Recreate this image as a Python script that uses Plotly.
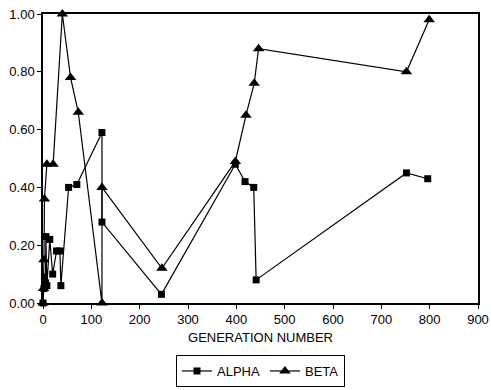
import plotly.graph_objects as go

alpha_x = [0, 2, 3, 5, 6, 8, 14, 20, 28, 35, 37, 53, 70, 122, 122, 245, 398, 418, 436, 441, 752, 796]
alpha_y = [0.00, 0.05, 0.09, 0.07, 0.23, 0.06, 0.22, 0.10, 0.18, 0.18, 0.06, 0.40, 0.41, 0.59, 0.28, 0.03, 0.48, 0.42, 0.40, 0.08, 0.45, 0.43]

beta_x = [0, 1, 2, 3, 8, 21, 40, 57, 73, 122, 122, 246, 398, 420, 437, 446, 752, 799]
beta_y = [0.00, 0.05, 0.15, 0.36, 0.48, 0.48, 1.00, 0.78, 0.66, 0.00, 0.40, 0.12, 0.49, 0.65, 0.76, 0.88, 0.80, 0.98]

x_ticks = [0, 100, 200, 300, 400, 500, 600, 700, 800, 900]
y_ticks = [0.0, 0.2, 0.4, 0.6, 0.8, 1.0]

fig = go.Figure()
fig.add_trace(go.Scatter(x=alpha_x, y=alpha_y, mode="lines+markers", name="ALPHA",
                         line=dict(color="black", width=1.2),
                         marker=dict(symbol="square", size=7, color="black"),
                         cliponaxis=False))
fig.add_trace(go.Scatter(x=beta_x, y=beta_y, mode="lines+markers", name="BETA",
                         line=dict(color="black", width=1.2),
                         marker=dict(symbol="triangle-up", size=10, color="black"),
                         cliponaxis=False))

font = dict(family="Liberation Sans, Arial, sans-serif", size=13, color="black")
fig.update_layout(
    width=491, height=390,
    margin=dict(l=43, r=13, t=14, b=87, autoexpand=False),
    paper_bgcolor="white", plot_bgcolor="white",
    font=font,
    showlegend=True,
    legend=dict(orientation="h", x=0.5, xanchor="center", y=-0.18, yanchor="top",
                bordercolor="black", borderwidth=1, font=font,
                itemwidth=30, tracegroupgap=0),
    xaxis=dict(range=[0, 900], tickvals=x_ticks, ticks="outside", ticklen=4,
               tickcolor="black", showline=True, linecolor="black", linewidth=1.5,
               mirror=True, showgrid=False, zeroline=False, automargin=False,
               ticklabeloverflow="allow", tickfont=font,
               title=dict(text="GENERATION NUMBER", standoff=7, font=font)),
    yaxis=dict(range=[0, 1.0], tickvals=y_ticks, tickformat=".2f", ticks="outside",
               ticklen=4, tickcolor="black", showline=True, linecolor="black",
               linewidth=1.5, mirror=True, showgrid=False, zeroline=False,
               automargin=False, tickfont=font),
)

fig.write_html("out.html",
               config={"displayModeBar": False},
               post_script="document.body.style.margin='0';document.body.style.overflow='hidden';")
